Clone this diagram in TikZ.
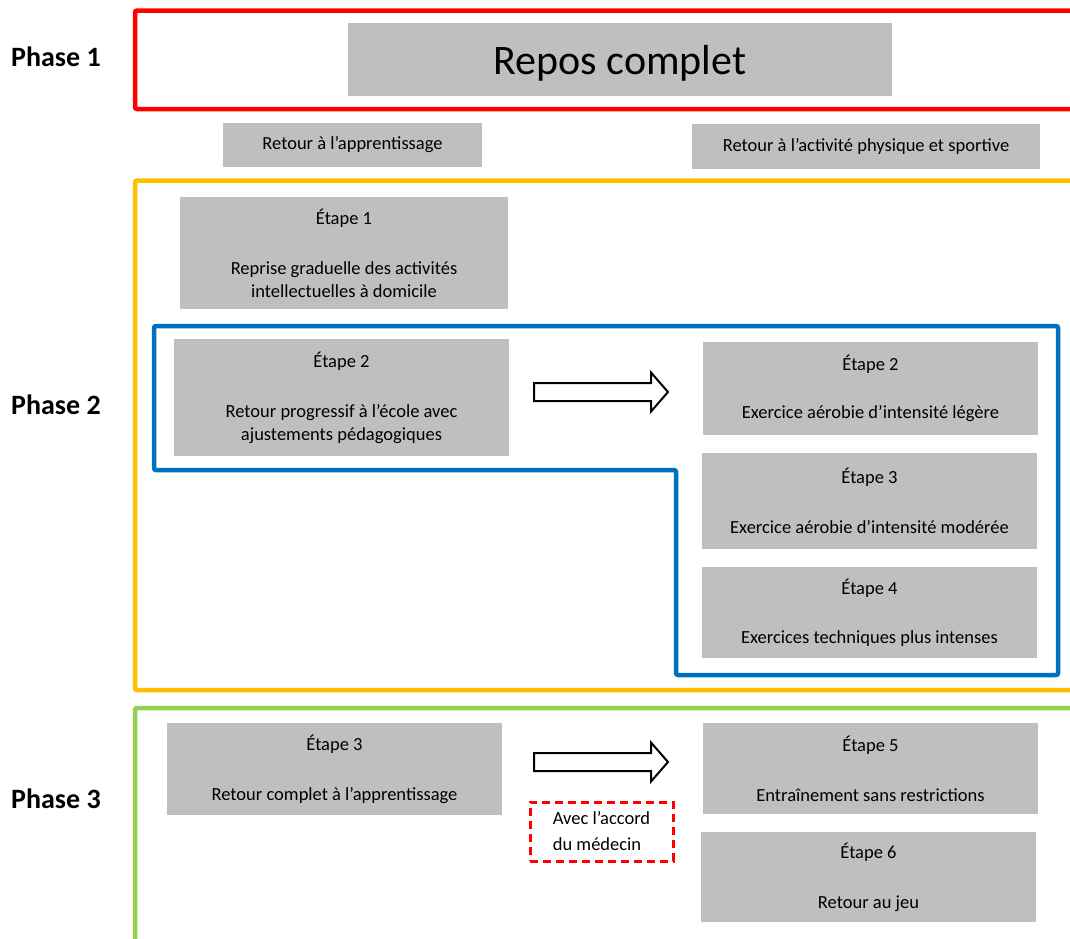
\documentclass[tikz,border=0pt]{standalone}
\usepackage{fontspec}
\setmainfont{Carlito}
\usepackage{tikz}
\usetikzlibrary{arrows.meta,positioning,calc}
\usepackage{xcolor}
\tikzset{>=Stealth}

\definecolor{rouge}{HTML}{FF0000}
\definecolor{jaune}{HTML}{FFC000}
\definecolor{vert}{HTML}{92D050}
\definecolor{bleu}{HTML}{0070C0}
\definecolor{gris}{HTML}{BFBFBF}

\tikzset{
  cadre/.style={line width=4.5pt, rounded corners=2pt},
  phase/.style={font=\fontsize{28}{32}\selectfont\bfseries},
  caisse/.style={fill=gris, inner sep=0pt, align=center, font=\fontsize{18.5}{23}\selectfont},
  accord/.style={draw=rouge, line width=3pt, dash pattern=on 8pt off 5pt, inner sep=0pt,
    align=left, font=\fontsize{18.5}{23}\selectfont},
  fleche/.style={draw=black, fill=white, line width=2pt},
}

\begin{document}
\begin{tikzpicture}[x=1pt, y=-1pt]
\useasboundingbox (0,0) rectangle (1070,938);
\clip (0,0) rectangle (1070,938);

% Cadres des phases
\draw[cadre, rouge] (135,10.5) rectangle (1100,109);
\draw[cadre, jaune] (135,180.5) rectangle (1100,690);
\draw[cadre, vert]  (135,708) rectangle (1100,980);
\draw[cadre, bleu]  (154,326) -- (1058,326) -- (1058,675) -- (676,675) -- (676,470) -- (154,470) -- cycle;

% Titres des phases
\foreach \n/\y in {1/57, 2/405, 3/799} {
  \node[phase] (phase\n) at (56,\y) {Phase \n};
}

% Phase 1
\node[caisse, minimum width=544pt, minimum height=73pt, text depth=0pt, font=\fontsize{42}{48}\selectfont]
  (repos) at (620,59.5) {Repos complet};
\node[caisse, minimum width=259pt, minimum height=44pt] (apprentissage) at (352.5,145) {Retour à l’apprentissage};
\node[caisse, minimum width=348pt, minimum height=45pt] (activite) at (866,146.5) {Retour à l’activité physique et sportive};

% Phase 2
\node[caisse, minimum width=328pt, minimum height=112pt] (ecoleUn) at (344,253)
  {Étape 1\\[27pt]Reprise graduelle des activités\\intellectuelles à domicile};
\node[caisse, minimum width=335pt, minimum height=117pt] (ecoleDeux) at (341.5,397.5)
  {Étape 2\\[27pt]Retour progressif à l’école avec\\ajustements pédagogiques};
\node[caisse, minimum width=335pt, minimum height=93pt] (sportDeux) at (870.5,388.5)
  {Étape 2\\[25pt]Exercice aérobie d’intensité légère};
\node[caisse, minimum width=335pt, minimum height=96pt] (sportTrois) at (869.5,501)
  {Étape 3\\[27pt]Exercice aérobie d’intensité modérée};
\node[caisse, minimum width=335pt, minimum height=91pt] (sportQuatre) at (869.5,612.5)
  {Étape 4\\[26pt]Exercices techniques plus intenses};

% Phase 3
\node[caisse, minimum width=335pt, minimum height=92pt] (ecoleTrois) at (334.5,769)
  {Étape 3\\[27pt]Retour complet à l’apprentissage};
\node[caisse, minimum width=335pt, minimum height=91pt] (sportCinq) at (870.5,768.5)
  {Étape 5\\[27pt]Entraînement sans restrictions};
\node[caisse, minimum width=335pt, minimum height=90pt] (sportSix) at (868.5,877)
  {Étape 6\\[27pt]Retour au jeu};
\node[accord, minimum width=143pt, minimum height=59pt] (medecin) at (601.5,831.5)
  {Avec l’accord\\[3pt]du médecin};

% Grosses flèches
\foreach \y/\nom in {392/haut, 762/bas} {
  \draw[fleche] (534,{\y-9}) -- (651,{\y-9}) -- (651,{\y-19.5}) -- (668,\y)
    -- (651,{\y+19.5}) -- (651,{\y+9}) -- (534,{\y+9}) -- cycle;
}

\end{tikzpicture}
\end{document}
